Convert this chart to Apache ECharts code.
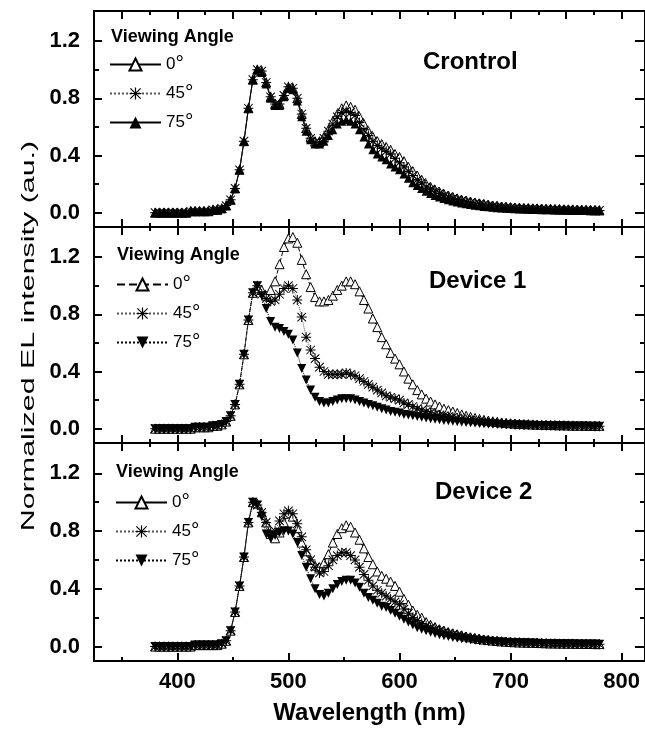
<!DOCTYPE html>
<html>
<head>
<meta charset="utf-8">
<script src="https://cdn.jsdelivr.net/npm/echarts@6/dist/echarts.min.js"></script>
<style>
  html, body { margin: 0; padding: 0; background: #fff; }
  #chart { width: 645px; height: 729px; }
</style>
</head>
<body>
<div id="chart"></div>
<script>
  // wavelength grid (nm)
  const wavelength = [
    380,384,388,392,396,400,404,408,412,416,420,424,428,432,436,
    440,444,448,452,456,460,464,468,472,476,480,484,488,492,496,
    500,504,508,512,516,520,524,528,532,536,540,544,548,552,556,
    560,564,568,572,576,580,584,588,592,596,600,604,608,612,616,
    620,624,628,632,636,640,644,648,652,656,660,664,668,672,676,
    680,684,688,692,696,700,704,708,712,716,720,724,728,732,736,
    740,744,748,752,756,760,764,768,772,776,780
  ];

  // Control
  const ctrl0 = [
    0,0,0,0,0,0,0,0,0.01,0.01,0.01,0.01,0.01,0.02,0.02,
    0.03,0.05,0.09,0.17,0.30,0.50,0.73,0.93,1.00,0.99,0.91,0.81,0.76,0.76,0.82,
    0.88,0.87,0.80,0.69,0.59,0.53,0.50,0.50,0.53,0.58,0.64,0.69,0.73,0.75,0.74,
    0.72,0.67,0.62,0.57,0.53,0.50,0.48,0.46,0.44,0.41,0.39,0.36,0.32,0.29,0.26,
    0.23,0.20,0.18,0.16,0.145,0.13,0.12,0.11,0.10,0.09,0.085,0.078,0.072,0.066,0.06,
    0.055,0.05,0.046,0.043,0.04,0.038,0.036,0.034,0.032,0.031,0.03,0.029,0.028,0.027,0.026,
    0.025,0.024,0.023,0.022,0.021,0.02,0.02,0.019,0.018,0.018,0.017
  ];
  const ctrl45 = [
    0,0,0,0,0,0,0,0,0.01,0.01,0.01,0.01,0.01,0.02,0.02,
    0.03,0.05,0.09,0.17,0.30,0.50,0.73,0.93,1.00,0.99,0.91,0.81,0.76,0.76,0.82,
    0.88,0.87,0.80,0.69,0.59,0.52,0.49,0.49,0.52,0.57,0.62,0.67,0.70,0.71,0.70,
    0.68,0.63,0.58,0.54,0.50,0.47,0.45,0.43,0.41,0.38,0.35,0.32,0.29,0.26,0.23,
    0.21,0.18,0.165,0.15,0.135,0.12,0.11,0.10,0.092,0.085,0.078,0.071,0.066,0.061,0.056,
    0.051,0.047,0.043,0.04,0.037,0.035,0.033,0.031,0.03,0.029,0.028,0.027,0.026,0.025,0.024,
    0.023,0.022,0.021,0.021,0.02,0.019,0.018,0.018,0.017,0.017,0.016
  ];
  const ctrl75 = [
    0,0,0,0,0,0,0,0,0.01,0.01,0.01,0.01,0.01,0.02,0.02,
    0.03,0.05,0.09,0.17,0.30,0.50,0.73,0.93,1.00,0.98,0.90,0.80,0.75,0.75,0.81,
    0.87,0.86,0.78,0.67,0.57,0.51,0.48,0.48,0.50,0.54,0.58,0.62,0.64,0.65,0.64,
    0.62,0.58,0.53,0.48,0.44,0.41,0.39,0.37,0.34,0.32,0.30,0.27,0.24,0.21,0.19,
    0.17,0.15,0.135,0.12,0.11,0.10,0.09,0.082,0.075,0.068,0.062,0.057,0.052,0.048,0.044,
    0.041,0.038,0.035,0.033,0.031,0.029,0.027,0.026,0.025,0.024,0.023,0.022,0.021,0.02,0.02,
    0.019,0.018,0.018,0.017,0.016,0.016,0.015,0.015,0.014,0.014,0.013
  ];

  // Device 1
  const dev1_0 = [
    0,0,0,0,0,0,0,0,0,0.01,0.01,0.01,0.01,0.02,0.02,
    0.03,0.05,0.09,0.17,0.31,0.52,0.76,0.95,1.00,0.97,0.93,0.97,1.03,1.15,1.27,
    1.33,1.34,1.30,1.18,1.08,0.99,0.92,0.89,0.89,0.90,0.93,0.97,1.00,1.03,1.03,
    1.01,0.96,0.90,0.84,0.77,0.71,0.64,0.59,0.53,0.49,0.45,0.40,0.35,0.31,0.27,
    0.24,0.21,0.19,0.17,0.155,0.14,0.13,0.12,0.11,0.10,0.09,0.082,0.075,0.068,0.062,
    0.057,0.052,0.048,0.044,0.041,0.038,0.036,0.034,0.032,0.031,0.03,0.029,0.028,0.027,0.026,
    0.025,0.024,0.024,0.023,0.022,0.022,0.021,0.021,0.02,0.02,0.02
  ];
  const dev1_45 = [
    0,0,0,0,0,0,0,0,0,0.01,0.01,0.01,0.01,0.02,0.02,
    0.03,0.05,0.09,0.17,0.31,0.52,0.76,0.95,1.00,0.94,0.91,0.89,0.90,0.94,0.98,
    1.00,0.98,0.90,0.78,0.64,0.55,0.49,0.43,0.40,0.38,0.38,0.38,0.38,0.39,0.38,
    0.37,0.35,0.33,0.31,0.29,0.27,0.25,0.23,0.22,0.21,0.20,0.18,0.17,0.155,0.14,
    0.13,0.12,0.11,0.10,0.095,0.09,0.085,0.08,0.074,0.068,0.063,0.058,0.054,0.05,0.046,
    0.043,0.04,0.038,0.036,0.034,0.032,0.03,0.029,0.028,0.027,0.026,0.025,0.024,0.023,0.022,
    0.022,0.021,0.021,0.02,0.02,0.019,0.019,0.018,0.018,0.017,0.017
  ];
  const dev1_75 = [
    0,0,0,0,0,0,0,0,0,0.01,0.01,0.01,0.01,0.02,0.02,
    0.03,0.05,0.09,0.17,0.31,0.52,0.76,0.95,1.00,0.93,0.84,0.75,0.71,0.70,0.68,
    0.66,0.62,0.53,0.42,0.34,0.27,0.22,0.19,0.18,0.18,0.19,0.20,0.21,0.21,0.21,
    0.20,0.19,0.18,0.17,0.16,0.15,0.14,0.13,0.12,0.115,0.11,0.10,0.095,0.09,0.085,
    0.08,0.075,0.07,0.066,0.062,0.058,0.055,0.052,0.049,0.046,0.043,0.041,0.039,0.037,0.035,
    0.033,0.032,0.031,0.03,0.029,0.028,0.027,0.026,0.025,0.024,0.024,0.023,0.022,0.022,0.021,
    0.021,0.02,0.02,0.019,0.019,0.018,0.018,0.018,0.017,0.017,0.017
  ];

  // Device 2
  const dev2_0 = [
    0,0,0,0,0,0,0,0,0,0.01,0.01,0.01,0.01,0.01,0.01,
    0.02,0.04,0.11,0.24,0.42,0.62,0.86,1.00,0.99,0.93,0.86,0.78,0.75,0.79,0.86,
    0.92,0.90,0.82,0.72,0.66,0.60,0.56,0.55,0.58,0.64,0.72,0.78,0.82,0.84,0.83,
    0.79,0.74,0.68,0.62,0.57,0.52,0.49,0.47,0.45,0.42,0.38,0.33,0.29,0.25,0.22,
    0.20,0.17,0.15,0.135,0.12,0.11,0.10,0.092,0.085,0.078,0.07,0.064,0.058,0.053,0.049,
    0.045,0.042,0.039,0.036,0.034,0.032,0.03,0.029,0.028,0.027,0.026,0.025,0.024,0.023,0.022,
    0.022,0.021,0.021,0.02,0.02,0.019,0.019,0.018,0.018,0.017,0.017
  ];
  const dev2_45 = [
    0,0,0,0,0,0,0,0,0,0.01,0.01,0.01,0.01,0.01,0.01,
    0.02,0.04,0.11,0.24,0.42,0.62,0.86,1.00,0.98,0.93,0.86,0.79,0.80,0.87,0.92,
    0.94,0.92,0.85,0.76,0.67,0.60,0.55,0.51,0.52,0.56,0.60,0.63,0.65,0.65,0.63,
    0.60,0.55,0.50,0.46,0.42,0.39,0.37,0.35,0.33,0.31,0.29,0.26,0.23,0.20,0.18,
    0.16,0.145,0.13,0.12,0.11,0.10,0.092,0.085,0.078,0.071,0.065,0.06,0.055,0.05,0.046,
    0.042,0.039,0.036,0.034,0.032,0.03,0.029,0.028,0.027,0.026,0.025,0.024,0.023,0.022,0.021,
    0.021,0.02,0.02,0.019,0.019,0.018,0.018,0.017,0.017,0.016,0.016
  ];
  const dev2_75 = [
    0,0,0,0,0,0,0,0,0,0.01,0.01,0.01,0.01,0.01,0.01,
    0.02,0.04,0.11,0.24,0.42,0.62,0.86,1.00,0.98,0.90,0.78,0.75,0.77,0.79,0.80,
    0.80,0.78,0.72,0.63,0.55,0.47,0.40,0.36,0.35,0.37,0.40,0.43,0.45,0.46,0.46,
    0.44,0.41,0.37,0.34,0.32,0.30,0.28,0.27,0.25,0.23,0.21,0.19,0.17,0.15,0.13,
    0.12,0.11,0.10,0.09,0.082,0.075,0.069,0.063,0.058,0.054,0.05,0.047,0.044,0.041,0.038,
    0.036,0.034,0.032,0.031,0.03,0.029,0.028,0.027,0.026,0.025,0.024,0.023,0.022,0.022,0.021,
    0.021,0.02,0.02,0.019,0.019,0.018,0.018,0.017,0.017,0.017,0.016
  ];

  const panelNames = ['Crontrol', 'Device 1', 'Device 2'];
  const angleValues = ['0', '45', '75'];
  const panelValues = [
    [ctrl0, ctrl45, ctrl75],
    [dev1_0, dev1_45, dev1_75],
    [dev2_0, dev2_45, dev2_75]
  ];

  // tick values
  const xMajor50 = [350, 400, 450, 500, 550, 600, 650, 700, 750, 800];
  const xMinor25 = [375, 425, 475, 525, 575, 625, 675, 725, 775];
  const xLabels = [400, 500, 600, 700, 800];
  const xMinor50 = [350, 450, 550, 650, 750];
  const yLabels = [0, 0.4, 0.8, 1.2];
  const yMinor = [0.2, 0.6, 1.0];

  const FONT = 'Liberation Sans, Arial, sans-serif';
  const X_MIN = 325, X_MAX = 821;
  const Y_MIN = -0.1, Y_MAX = 1.41;

  const gridTop = [11, 227, 443];
  const gridHeight = [216, 216, 218];
  const legendTop = [54, 274, 492];
  const legendLeft = [109, 116, 115];
  const vaTop = [28, 246, 463];
  const vaLeft = [111, 117, 116];
  const titleLeft = [423, 429, 435];
  const titleTop = [50, 269, 480];

  const STAR = 'path://M9,0h2v20h-2z M0,9h20v2h-20z M2.2,0.8L19.2,17.8L17.8,19.2L0.8,2.2z M17.8,0.8L19.2,2.2L2.2,19.2L0.8,17.8z';
  const DOWN = 'path://M0,0L20,0L10,18z';

  const frameLine = { show: true, onZero: false, lineStyle: { color: '#000', width: 2 } };
  const noLine = { show: false, onZero: false };

  function xAxisDef(g, position, ticks, len, line, labels) {
    return {
      type: 'value', gridIndex: g, position: position, min: X_MIN, max: X_MAX,
      axisLine: line ? frameLine : noLine,
      axisTick: { show: true, inside: true, length: len, customValues: ticks, lineStyle: { color: '#000', width: 2 } },
      axisLabel: labels ? {
        show: true, customValues: labels, margin: 10, color: '#000',
        fontFamily: FONT, fontWeight: 'bold', fontSize: 22
      } : { show: false },
      splitLine: { show: false }
    };
  }

  function yAxisDef(g, position, ticks, len, line, labels) {
    return {
      type: 'value', gridIndex: g, position: position, min: Y_MIN, max: Y_MAX,
      axisLine: line ? frameLine : noLine,
      axisTick: { show: true, inside: true, length: len, customValues: ticks, lineStyle: { color: '#000', width: 2 } },
      axisLabel: labels ? {
        show: true, customValues: labels, margin: 14, color: '#000',
        fontFamily: FONT, fontWeight: 'bold', fontSize: 22,
        formatter: v => v.toFixed(1)
      } : { show: false },
      splitLine: { show: false }
    };
  }

  const grids = [], xAxes = [], yAxes = [], series = [], legends = [], titles = [];

  panelNames.forEach((p, g) => {
    grids.push({ left: 94, right: -1, top: gridTop[g], height: gridHeight[g] });

    const last = g === panelNames.length - 1;
    xAxes.push(xAxisDef(g, 'bottom', last ? xLabels : xMajor50, 8, true, last ? xLabels : null));
    xAxes.push(xAxisDef(g, 'bottom', last ? xMinor50 : xMinor25, 4, false, null));
    xAxes.push(xAxisDef(g, 'top', xMajor50, 8, true, null));
    xAxes.push(xAxisDef(g, 'top', xMinor25, 4, false, null));

    yAxes.push(yAxisDef(g, 'left', yLabels, 8, true, yLabels));
    yAxes.push(yAxisDef(g, 'left', yMinor, 5, false, null));
    yAxes.push(yAxisDef(g, 'right', yLabels, 10, true, null));
    yAxes.push(yAxisDef(g, 'right', yMinor, 5, false, null));

    const styles = [
      { symbol: 'triangle', symbolSize: 9, itemStyle: { color: '#fff', borderColor: '#000', borderWidth: 1 },
        lineStyle: { color: '#000', width: 1, type: g === 1 ? 'dashed' : 'solid' } },
      { symbol: STAR, symbolSize: 10, itemStyle: { color: '#000' },
        lineStyle: { color: '#555', width: 1, type: 'dotted' } },
      { symbol: g === 0 ? 'triangle' : DOWN, symbolSize: 9, itemStyle: { color: '#000' },
        lineStyle: { color: '#000', width: 1, type: g === 0 ? 'solid' : 'dotted' } }
    ];

    angleValues.forEach((a, k) => {
      series.push(Object.assign({
        name: p + ' ' + a,
        type: 'line',
        xAxisIndex: 4 * g,
        yAxisIndex: 4 * g,
        showAllSymbol: true,
        data: wavelength.map((w, i) => [w, panelValues[g][k][i]])
      }, styles[k]));
    });

    legends.push({
      data: angleValues.map(a => p + ' ' + a),
      formatter: n => '{n|' + n.slice(p.length + 1) + '}{d|°}',
      orient: 'vertical', left: legendLeft[g], top: legendTop[g], padding: 0,
      itemWidth: 51, itemHeight: 15, itemGap: 8, selectedMode: false,
      textStyle: {
        fontFamily: FONT, fontSize: 17, color: '#000',
        rich: {
          n: { fontFamily: FONT, fontSize: 17, color: '#000' },
          d: { fontFamily: FONT, fontSize: 21, color: '#000' }
        }
      }
    });

    titles.push({
      text: p, left: titleLeft[g], top: titleTop[g], padding: 0,
      textStyle: { fontFamily: FONT, fontSize: 24, fontWeight: 'bold', color: '#000' }
    });
    titles.push({
      text: 'Viewing Angle', left: vaLeft[g], top: vaTop[g], padding: 0,
      textStyle: { fontFamily: FONT, fontSize: 18, fontWeight: 'bold', color: '#000' }
    });
  });

  xAxes[8].name = 'Wavelength (nm)';
  xAxes[8].nameLocation = 'middle';
  xAxes[8].nameGap = 40;
  xAxes[8].nameTextStyle = { fontFamily: FONT, fontSize: 24, fontWeight: 'bold', color: '#000' };

  const myChart = echarts.init(document.getElementById('chart'));
  myChart.setOption({
    animation: false,
    backgroundColor: '#fff',
    title: titles,
    legend: legends,
    grid: grids,
    xAxis: xAxes,
    yAxis: yAxes,
    series: series,
    // y axis title, stretched along its length like the original figure
    graphic: [{
      type: 'text', x: 29, y: 336, rotation: Math.PI / 2, scaleX: 1.6,
      style: {
        text: 'Normalized EL intensity (au.)', fontFamily: FONT, fontSize: 19,
        fill: '#000', align: 'center', verticalAlign: 'middle'
      }
    }]
  });
</script>
</body>
</html>
